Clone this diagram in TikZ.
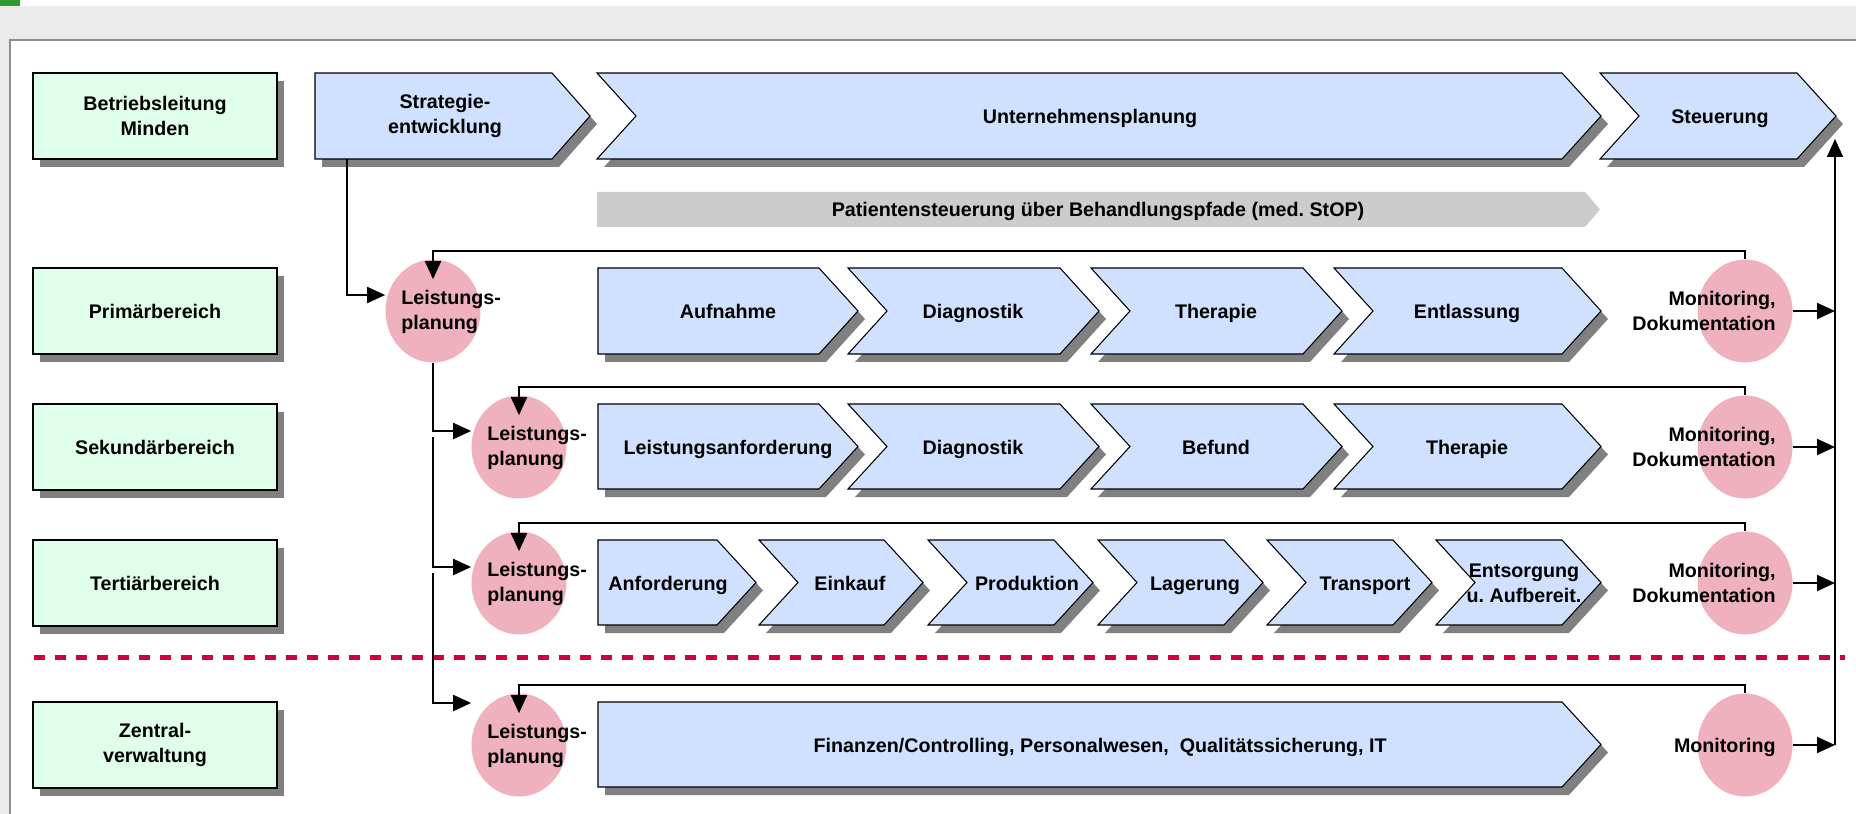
\documentclass[tikz,border=0pt]{standalone}
\usepackage{fontspec}
\setmainfont{Liberation Sans}
\usetikzlibrary{shapes.geometric, arrows.meta, positioning, calc, shadows}

\definecolor{unitgreen}{HTML}{DFFFEB}
\definecolor{stepblue}{HTML}{D0E0FF}
\definecolor{planpink}{HTML}{EFB1BE}
\definecolor{shadowgray}{HTML}{808080}
\definecolor{bannergray}{HTML}{CCCCCC}
\definecolor{pagegray}{HTML}{EBEBEB}
\definecolor{framegray}{HTML}{8C8C8C}
\definecolor{topgreen}{HTML}{2E9A2E}
\definecolor{cutred}{HTML}{D2003C}

\newcommand{\bodyfont}{\fontsize{11.2}{14.2}\selectfont\bfseries\frenchspacing}

\tikzset{
	boxshadow/.style={general shadow={fill=shadowgray, shadow xshift=0.14cm, shadow yshift=-0.16cm}},
	unitbox/.style={draw, line width=0.6pt, fill=unitgreen, boxshadow, minimum width=4.88cm, minimum height=1.72cm, align=center, font=\bodyfont},
	chevbox/.style={draw, line width=0.6pt, fill=stepblue, boxshadow},
	steptext/.style={align=center, font=\bodyfont, inner sep=0pt},
	oneline/.style={steptext, text height=8pt, text depth=0pt},
	planning/.style={ellipse, fill=planpink, minimum width=1.9cm, minimum height=2.06cm, inner sep=0pt},
	plantext/.style={font=\bodyfont, inner sep=0pt},
	flowarrow/.style={line width=1.1pt, -{Triangle[length=0.36cm, width=0.32cm]}},
	cutline/.style={cutred, line width=0.1cm, dash pattern=on 0.22cm off 0.2cm}
}

% left x, flat x, tip x, notch depth, top y, bottom y
\newcommand{\chevron}[6]{%
	\draw[chevbox] (#1,#5) -- (#2,#5) -- (#3,{(#5+#6)/2}) -- (#2,#6) -- (#1,#6) -- ({#1+#4},{(#5+#6)/2}) -- cycle;
}

\begin{document}
\begin{tikzpicture}[x=0.02cm, y=-0.02cm]
		\useasboundingbox (0,0) rectangle (1856,814);

		% Page
		\fill[pagegray] (0,0) rectangle (1856,814);
		\fill[white] (0,0) rectangle (1856,6);
		\fill[topgreen] (0,0) rectangle (20,6);
		\fill[white] (10,40) rectangle (1856,814);
		\draw[framegray, line width=0.045cm] (10,814) -- (10,40) -- (1856,40);

		% Separator
		\draw[cutline] (34,657) -- (1845,657);

		% Units
		\node[unitbox] (bl) at (155,116) {Betriebsleitung\\Minden};
		\node[unitbox] (prim) at (155,311) {Primärbereich};
		\node[unitbox] (sek) at (155,447) {Sekundärbereich};
		\node[unitbox] (tert) at (155,583) {Tertiärbereich};
		\node[unitbox] (zv) at (155,745) {Zentral-\\verwaltung};

		% Management row
		\chevron{315}{552}{590}{0}{73}{159}
		\chevron{597}{1562}{1601}{39}{73}{159}
		\chevron{1600}{1797}{1836}{39}{73}{159}
		\node[steptext] (strat) at (445,116) {Strategie-\\entwicklung};
		\node[oneline] (uplan) at (1090,116) {Unternehmensplanung};
		\node[oneline] (steu) at (1720,116) {Steuerung};

		\fill[bannergray] (597,192) -- (1585,192) -- (1600,209.5) -- (1585,227) -- (597,227) -- cycle;
		\node[oneline] (pfad) at (1098,209.5) {Patientensteuerung über Behandlungspfade (med. StOP)};

		% Primary row
		\chevron{598}{819}{858}{0}{268}{354}
		\chevron{848}{1060}{1099}{39}{268}{354}
		\chevron{1091}{1303}{1342}{39}{268}{354}
		\chevron{1334}{1562}{1601}{39}{268}{354}
		\node[oneline] (p-1) at (728,311) {Aufnahme};
		\node[oneline] (p-2) at (973,311) {Diagnostik};
		\node[oneline] (p-3) at (1216,311) {Therapie};
		\node[oneline] (p-4) at (1467,311) {Entlassung};

		% Secondary row
		\chevron{598}{819}{858}{0}{404}{489}
		\chevron{848}{1060}{1099}{39}{404}{489}
		\chevron{1091}{1303}{1342}{39}{404}{489}
		\chevron{1334}{1562}{1601}{39}{404}{489}
		\node[oneline] (s-1) at (728,447) {Leistungsanforderung};
		\node[oneline] (s-2) at (973,447) {Diagnostik};
		\node[oneline] (s-3) at (1216,447) {Befund};
		\node[oneline] (s-4) at (1467,447) {Therapie};

		% Tertiary row
		\chevron{598}{717}{756}{0}{540}{625}
		\chevron{759}{884}{923}{39}{540}{625}
		\chevron{928}{1054}{1093}{39}{540}{625}
		\chevron{1098}{1224}{1263}{39}{540}{625}
		\chevron{1267}{1393}{1432}{39}{540}{625}
		\chevron{1436}{1562}{1601}{39}{540}{625}
		\node[oneline] (t-1) at (668,583) {Anforderung};
		\node[oneline] (t-2) at (850,583) {Einkauf};
		\node[oneline] (t-3) at (1027,583) {Produktion};
		\node[oneline] (t-4) at (1195,583) {Lagerung};
		\node[oneline] (t-5) at (1365,583) {Transport};
		\node[steptext] (t-6) at (1524,583) {Entsorgung\\u. Aufbereit.};

		% Central administration
		\chevron{598}{1562}{1601}{0}{702}{787}
		\node[oneline] (z-1) at (1100,745) {Finanzen/Controlling, Personalwesen, \ Qualitätssicherung, IT};

		% Planning and monitoring
		\node[planning] (lp1) at (433,311) {};
		\node[planning] (lp2) at (519,447) {};
		\node[planning] (lp3) at (519,583) {};
		\node[planning] (lp4) at (519,745) {};
		\node[planning] (mon1) at (1745,311) {};
		\node[planning] (mon2) at (1745,447) {};
		\node[planning] (mon3) at (1745,583) {};
		\node[planning] (mon4) at (1745,745) {};

		\node[plantext, anchor=west, align=left] (lp1t) at (401,312) {Leistungs-\\planung};
		\node[plantext, anchor=west, align=left] (lp2t) at (487,448) {Leistungs-\\planung};
		\node[plantext, anchor=west, align=left] (lp3t) at (487,584) {Leistungs-\\planung};
		\node[plantext, anchor=west, align=left] (lp4t) at (487,746) {Leistungs-\\planung};
		\node[plantext, anchor=east, align=right] (mon1t) at (1776,311) {Monitoring,\\Dokumentation};
		\node[plantext, anchor=east, align=right] (mon2t) at (1776,447) {Monitoring,\\Dokumentation};
		\node[plantext, anchor=east, align=right] (mon3t) at (1776,583) {Monitoring,\\Dokumentation};
		\node[plantext, anchor=east, text height=8pt, text depth=0pt] (mon4t) at (1776,745) {Monitoring};

		% Planning chain
		\coordinate (stratfoot) at (347,159);
		\coordinate (spine2) at (433,437);
		\coordinate (spine3) at (433,573);
		\draw[flowarrow] (stratfoot) |- ([yshift=0.32cm]lp1.west);
		\draw[flowarrow] (lp1.south) |- ([yshift=0.32cm]lp2.west);
		\draw[flowarrow] (spine2) |- ([yshift=0.32cm]lp3.west);
		\draw[flowarrow] (spine3) |- ([yshift=0.84cm]lp4.west);

		% Feedback loops
		\draw[flowarrow] (mon1.north) -- ++(0,-8) -| ([yshift=-0.4cm]lp1.north);
		\draw[flowarrow] (mon2.north) -- ++(0,-8) -| ([yshift=-0.4cm]lp2.north);
		\draw[flowarrow] (mon3.north) -- ++(0,-8) -| ([yshift=-0.4cm]lp3.north);
		\draw[flowarrow] (mon4.north) -- ++(0,-8) -| ([yshift=-0.4cm]lp4.north);

		% Reporting to Steuerung
		\coordinate (spinefoot) at (1835,745);
		\coordinate (spinehead) at (1835,139);
		\draw[flowarrow] (mon1.east) -- (mon1.east -| spinefoot);
		\draw[flowarrow] (mon2.east) -- (mon2.east -| spinefoot);
		\draw[flowarrow] (mon3.east) -- (mon3.east -| spinefoot);
		\draw[flowarrow] (mon4.east) -- (spinefoot);
		\draw[flowarrow] (spinefoot) -- (spinehead);
	\end{tikzpicture}
\end{document}
